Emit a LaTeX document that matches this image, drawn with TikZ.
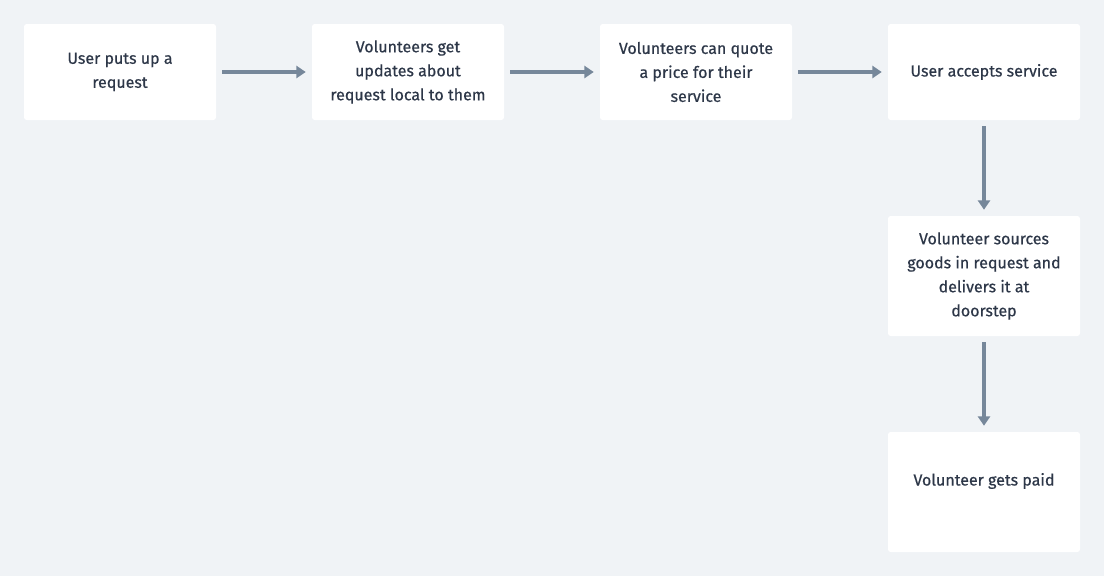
\documentclass[tikz,border=0pt]{standalone}
\usepackage{fontspec}
\newfontfamily\stepfont{Fira Sans}[FakeBold=0.5]
\usetikzlibrary{arrows.meta,positioning}
\definecolor{bgcol}{HTML}{F0F3F6}
\definecolor{arrowcol}{HTML}{76879A}
\definecolor{textcol}{HTML}{2D3748}
\tikzset{
  stepnode/.style = {align=center, fill=white, rounded corners=2pt, text=textcol,
    minimum width=144pt, minimum height=72pt, inner sep=0pt, font=\stepfont\fontsize{12}{18}\selectfont},
  steptext/.style = {align=center, text=textcol, inner sep=0pt, font=\stepfont\fontsize{12}{18}\selectfont},
  flow/.style = {draw=arrowcol, line width=3pt, -{Triangle[length=7pt,width=9pt]}},
}
\begin{document}
\begin{tikzpicture}[x=0.75pt, y=-0.75pt]
  \fill[bgcol] (0,0) rectangle (1104,576);
  \useasboundingbox (0,0) rectangle (1104,576);
  \node [stepnode] (request) at (120,72) {User puts up a\\request};
  \node [stepnode] (updates) at (408,72) {Volunteers get\\updates about\\request local to them};
  \node [stepnode] (quote) at (696,72) {Volunteers can quote\\a price for their\\service};
  \node [stepnode] (accept) at (984,72) {User accepts service};
  \node [stepnode, minimum height=90pt] (deliver) at (984,276) {Volunteer sources\\goods in request and\\delivers it at\\doorstep};
  \node [stepnode, minimum height=90pt] (paid) at (984,492) {};
  \node [steptext] (paidtext) at (984,481) {Volunteer gets paid};
  \draw [flow] ([xshift=4.5pt]request.east) -- ([xshift=-4.5pt]updates.west);
  \draw [flow] ([xshift=4.5pt]updates.east) -- ([xshift=-4.5pt]quote.west);
  \draw [flow] ([xshift=4.5pt]quote.east) -- ([xshift=-4.5pt]accept.west);
  \draw [flow] ([yshift=-4.5pt]accept.south) -- ([yshift=4.5pt]deliver.north);
  \draw [flow] ([yshift=-4.5pt]deliver.south) -- ([yshift=4.5pt]paid.north);
\end{tikzpicture}
\end{document}
